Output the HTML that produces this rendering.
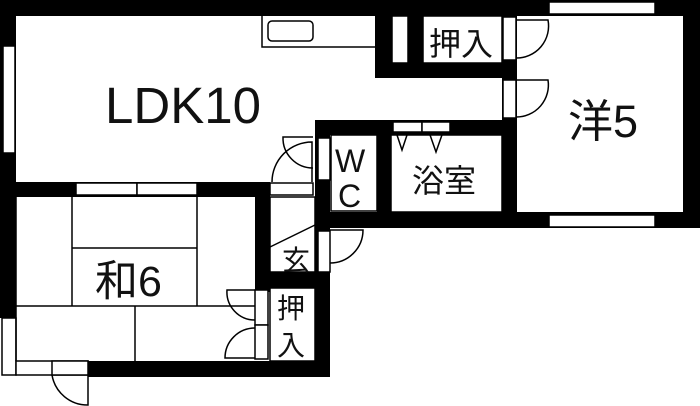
<!DOCTYPE html>
<html><head><meta charset="utf-8"><style>
html,body{margin:0;padding:0;background:#fff;}
svg{display:block;}
text{font-family:"Liberation Sans","Noto Sans CJK JP",sans-serif;fill:#111;}
</style></head><body>
<svg width="700" height="406" viewBox="0 0 700 406" xmlns="http://www.w3.org/2000/svg">
<rect width="700" height="406" fill="#fff"/>
<g fill="#000">
<rect x="0" y="0" width="548" height="16"/>
<rect x="0" y="0" width="16" height="318"/>
<rect x="0" y="182" width="270" height="15"/>
<rect x="375" y="0" width="48" height="78"/>
<rect x="375" y="63" width="142" height="15"/>
<rect x="502" y="0" width="15" height="228"/>
<rect x="548" y="0" width="152" height="16"/>
<rect x="683" y="0" width="17" height="228"/>
<rect x="316" y="212" width="384" height="16"/>
<rect x="316" y="120" width="200" height="15"/>
<rect x="377" y="120" width="14" height="108"/>
<rect x="315" y="120" width="15" height="170"/>
<rect x="255" y="182" width="15" height="110"/>
<rect x="255" y="272" width="75" height="16"/>
<rect x="315" y="272" width="15" height="105"/>
<rect x="88" y="361" width="242" height="16"/>
</g>
<g fill="#fff" stroke="#000" stroke-width="1.5">
<rect x="3" y="46" width="12" height="107"/>
<rect x="549" y="2" width="106" height="12"/>
<rect x="549" y="215" width="106" height="12"/>
<rect x="76" y="183" width="61" height="12"/>
<rect x="137" y="183" width="60" height="12"/>
<rect x="270" y="183" width="43" height="12"/>
<rect x="392" y="16" width="16" height="47"/>
<rect x="423" y="16" width="79" height="47"/>
<rect x="503" y="17" width="13" height="43"/>
<rect x="503" y="80" width="13" height="38"/>
<rect x="318" y="138" width="12" height="42"/>
<rect x="318" y="231" width="12" height="41"/>
<rect x="255" y="290" width="13" height="35"/>
<rect x="255" y="325" width="13" height="34"/>
<rect x="391" y="135" width="111" height="77"/>
<rect x="331" y="135" width="46" height="76"/>
<rect x="393" y="122" width="29" height="10"/>
<rect x="422" y="122" width="28" height="10"/>
<rect x="270" y="197" width="45" height="75"/>
<rect x="270" y="288" width="45" height="73"/>
<rect x="2" y="318" width="14" height="57"/>
<rect x="16" y="361" width="72" height="14"/>
<rect x="52" y="361" width="36" height="14"/>
</g>
<g fill="none" stroke="#000" stroke-width="1.5">
<path d="M262 16 V47 H375"/>
<rect x="268" y="21" width="45" height="20" rx="4"/>
<path d="M396 132 L402 150 L408 132"/>
<path d="M429 132 L436 152 L443 132"/>
<path d="M516 20 H548 A32 32 0 0 1 516 58"/>
<path d="M516 80 H548 A32 32 0 0 1 516 117"/>
<path d="M313 137 H283 A30 30 0 0 0 313 168"/>
<path d="M272 182 A40 40 0 0 1 312 142 V182"/>
<path d="M330 230 H363 A33 33 0 0 1 330 263"/>
<path d="M270 247 L315 225"/>
<path d="M255 290 H227 A28 28 0 0 0 255 320"/>
<path d="M255 358 H225 A30 30 0 0 1 255 328"/>
<path d="M88 375 V405 A36 36 0 0 1 52 375"/>
<path d="M72 197 V306 M197 197 V306 M72 248 H197 M16 306 H255 M135 306 V361 M16 197 V361"/>
</g>
<text x="105" y="123" font-size="51">LDK10</text>
<text x="568" y="137" font-size="45">洋5</text>
<text x="95" y="296" font-size="43">和6</text>
<text x="429" y="55" font-size="32">押入</text>
<text x="412" y="192" font-size="32">浴室</text>
<text x="335" y="172" font-size="32">W</text>
<text x="338" y="207" font-size="32">C</text>
<text x="282" y="270" font-size="28">玄</text>
<text x="277" y="318" font-size="28">押</text>
<text x="277" y="355" font-size="28">入</text>
</svg>
</body></html>
